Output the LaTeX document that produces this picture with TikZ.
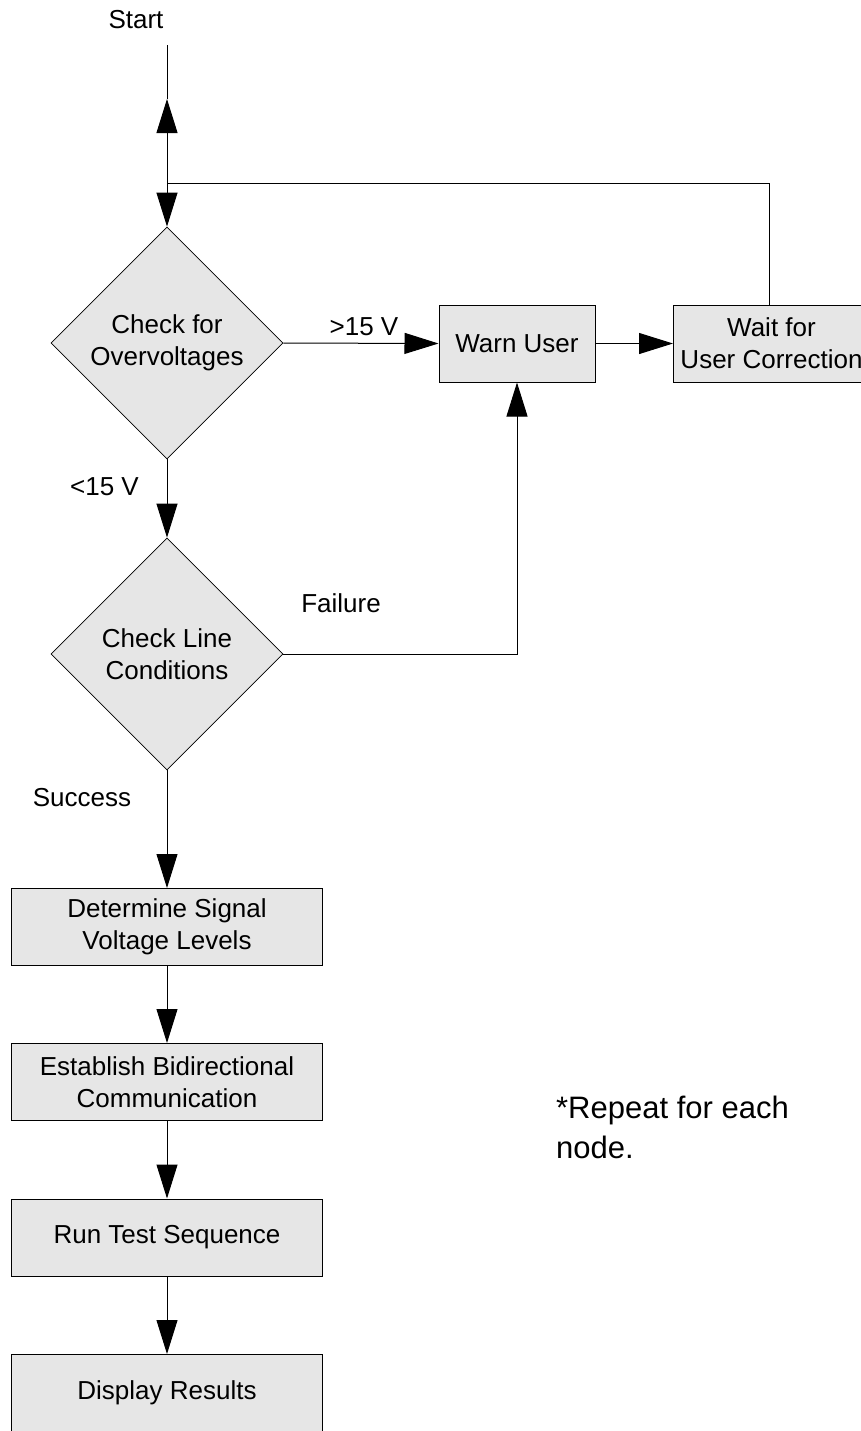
\documentclass[tikz,border=0pt]{standalone}
\usepackage{fontspec}
\setmainfont{Liberation Sans}
\usetikzlibrary{arrows.meta,shapes.geometric}
\definecolor{boxgray}{HTML}{E6E6E6}

\begin{document}
\begin{tikzpicture}[x=0.5pt,y=-0.5pt,line width=0.5pt,
        every node/.style={font=\fontsize{13pt}{16pt}\selectfont},
        block/.style={draw,fill=boxgray,inner sep=0pt,align=center,minimum height=38.5pt},
        decision/.style={draw,fill=boxgray,diamond,aspect=1,line width=0.4pt,inner sep=0pt,align=center,minimum width=116pt,minimum height=116pt},
        arr/.style={-{Triangle[length=17pt,width=10.5pt]}}]
        \useasboundingbox (0,0) rectangle (861,1431);
        \node (start) at (136,20) {Start};
        \coordinate (top) at (167,45);
        \coordinate (uptip) at (167,99);
        \coordinate (junc) at (167,183);
        \node[decision] (over) at (167,343) {Check for\\Overvoltages};
        \node[decision] (line) at (167,654) {Check Line\\Conditions};
        \node[block,minimum width=78pt] (warn) at (517,343.5) {Warn User};
        \node[block,minimum width=98pt,anchor=west] (wait) at (673,343.5) {Wait for\\User Correction};
        \node[block,minimum width=155.5pt] (levels) at (167,927) {Determine Signal\\Voltage Levels};
        \node[block,minimum width=155.5pt] (comm) at (167,1082) {Establish Bidirectional\\Communication};
        \node[block,minimum width=155.5pt] (seq) at (167,1237.5) {Run Test Sequence};
        \node[block,minimum width=155.5pt] (results) at (167,1393) {Display Results};
        \node (over15) at (364,327) {>15 V};
        \node (under15) at (104.5,487) {<15 V};
        \node (fail) at (341,603) {Failure};
        \node (succ) at (82,798) {Success};
        \node[anchor=west,align=left,font=\fontsize{15.5pt}{20pt}\selectfont] (note) at (549,1127) {*Repeat for each\\node.};
        \coordinate (loop) at (769,305);
        \draw (uptip) -- (top);
        \draw[arr] (junc) -- (uptip);
        \draw[arr] (junc) -- (over.north);
        \draw (loop) |- (junc);
        \draw[arr] (over.east) -- (warn.west);
        \draw[arr] (warn.east) -- (wait.west);
        \draw[arr] (over.south) -- (line.north);
        \draw[arr] (line.east) -| (warn.south);
        \draw[arr] (line.south) -- (levels.north);
        \draw[arr] (levels) -- (comm);
        \draw[arr] (comm) -- (seq);
        \draw[arr] (seq) -- (results);
    \end{tikzpicture}
\end{document}
